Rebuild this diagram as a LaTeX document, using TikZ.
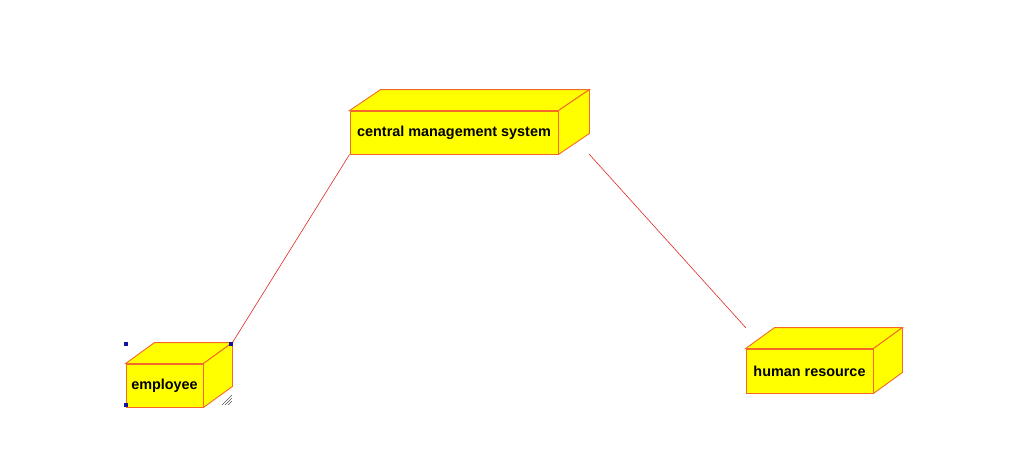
\documentclass[tikz,border=0pt]{standalone}
\usepackage{fontspec}
\setmainfont{Liberation Sans}
\begin{document}
\begin{tikzpicture}[x=1pt,y=-1pt,
  boxface/.style={draw=boxedge,fill=boxfill,line width=0.9pt,line join=miter},
  front/.style={boxface,inner sep=0pt,font=\fontsize{14.4}{17}\selectfont\bfseries},
  link/.style={draw=linkred,line width=0.6pt},
  handle/.style={fill=handleblue,draw=none},
  grip/.style={draw=gray!70!black,line width=0.6pt}]
\definecolor{boxedge}{RGB}{245,105,40}
\definecolor{boxfill}{RGB}{255,255,0}
\definecolor{linkred}{RGB}{225,40,40}
\definecolor{handleblue}{RGB}{20,20,150}
\useasboundingbox (0,0) rectangle (1022,463);
\fill[white] (0,0) rectangle (1022,463);
% nodes (front faces)
\node[front,minimum width=208pt,minimum height=43pt] (c) at (454,132.5) {\raisebox{-1pt}{central management system}};
\node[front,minimum width=77pt,minimum height=43pt] (e) at (164.5,385.5) {\raisebox{-1pt}{employee}};
\node[front,minimum width=127pt,minimum height=44pt] (h) at (809.5,371) {\raisebox{-1pt}{human resource}};
% connectors
\coordinate (cr) at (589,154);
\coordinate (hl) at (746,328);
\draw[link] (c.south west) -- ([shift={(29,-21)}]e.north east);
\draw[link] (cr) -- (hl);
% 3D faces
\foreach \n/\dx in {c/31,e/29,h/29}{
  \draw[boxface] (\n.north west) -- ([shift={(\dx,-21)}]\n.north west) -- ([shift={(\dx,-21)}]\n.north east) -- (\n.north east) -- cycle;
  \draw[boxface] (\n.north east) -- ([shift={(\dx,-21)}]\n.north east) -- ([shift={(\dx,-21)}]\n.south east) -- (\n.south east) -- cycle;
}
% selection handles
\fill[handle] (124,342) rectangle (128,346);
\fill[handle] (229,342) rectangle (233,346);
\fill[handle] (124,403) rectangle (128,407);
\draw[grip] (222,405) -- (232,395);
\draw[grip] (225,405) -- (232,398);
\draw[grip] (228,405) -- (232,401);
\end{tikzpicture}
\end{document}
